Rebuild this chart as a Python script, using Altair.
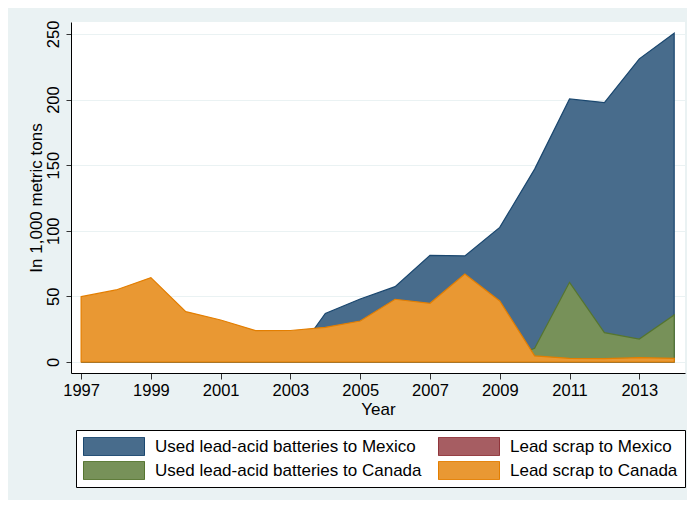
import altair as alt
import pandas as pd

years = list(range(1997, 2015))
batt_mexico = [0, 0, 0, 0, 0, 0, 0, 37, 48, 57.4, 81.3, 80.8, 102.6, 147, 200.5, 197.7, 231, 250.5]
scrap_mexico = [0, 0, 0, 0, 0, 0, 0, 0, 0, 0, 0, 0, 0, 0, 0, 0, 0, 0]
batt_canada = [0, 0, 0, 0, 0, 0, 0, 0, 0, 0, 0, 0, 0, 10.4, 60.7, 22.4, 17.5, 35.8]
scrap_canada = [49.8, 54.9, 64.3, 38.4, 32, 23.9, 24, 26.4, 31.2, 47.8, 44.7, 67.1, 46.5, 4.6, 2.8, 2.5, 3.3, 2.8]

# drawing order (back to front)
series_names = [
    "Used lead-acid batteries to Mexico",
    "Lead scrap to Mexico",
    "Used lead-acid batteries to Canada",
    "Lead scrap to Canada",
]
series_values = [batt_mexico, scrap_mexico, batt_canada, scrap_canada]
fills = ["#486C8C", "#A65D62", "#779159", "#E99833"]
strokes = ["#1A476F", "#90353B", "#55752F", "#E37E00"]

# legend order (legend fills its two columns top to bottom)
legend_order = [0, 2, 1, 3]
legend_names = [series_names[i] for i in legend_order]
legend_fills = [fills[i] for i in legend_order]
legend_strokes = [strokes[i] for i in legend_order]

x_ticks = [1997, 1999, 2001, 2003, 2005, 2007, 2009, 2011, 2013]
y_ticks = [0, 50, 100, 150, 200, 250]

rows = []
for name, vals in zip(series_names, series_values):
    for yr, v in zip(years, vals):
        rows.append({"year": yr, "value": v, "series": name})
df = pd.DataFrame(rows)

FONT = "Liberation Sans"

legend = alt.Legend(
    title=None,
    orient="none",
    legendX=5,
    legendY=408,
    columns=2,
    symbolType="M-1,-0.3H1V0.3H-1Z",
    symbolSize=3721,
    clipHeight=19,
    symbolStrokeWidth=1,
    symbolOpacity=1,
    labelFont=FONT,
    labelFontSize=17,
    labelColor="black",
    labelOffset=10,
    labelLimit=500,
    rowPadding=5,
    columnPadding=16,
    padding=7,
    strokeColor="black",
    fillColor="white",
)

x_enc = alt.X(
    "year:Q",
    scale=alt.Scale(domain=[1996.71, 2014.31], nice=False, zero=False),
    axis=alt.Axis(
        values=x_ticks, format="d", title="Year", grid=False,
        tickSize=6, labelPadding=3, tickColor="#333333", domainColor="black",
        labelFont=FONT, labelFontSize=16.5, labelColor="black",
        titleFont=FONT, titleFontSize=17, titleFontWeight="normal", titleColor="black",
        titlePadding=3,
    ),
)
y_enc = alt.Y(
    "value:Q",
    stack=None,
    scale=alt.Scale(domain=[-8.4, 259.1], nice=False, zero=False),
    axis=alt.Axis(
        values=y_ticks, title="In 1,000 metric tons", grid=True,
        gridColor="#EAF2F3", gridWidth=1,
        labelAngle=270, labelAlign="center", labelBaseline="bottom",
        tickSize=5, labelPadding=5, tickColor="#333333", domainColor="black",
        labelFont=FONT, labelFontSize=16.5, labelColor="black",
        titleFont=FONT, titleFontSize=17, titleFontWeight="normal", titleColor="black",
        titlePadding=0,
    ),
)

layers = []
for name in series_names:
    layer = (
        alt.Chart(df)
        .transform_filter(alt.datum.series == name)
        .mark_area(strokeWidth=1.2, fillOpacity=1, interpolate="linear")
        .encode(
            x=x_enc,
            y=y_enc,
            y2=alt.datum(0),
            color=alt.Color("series:N", scale=alt.Scale(domain=legend_names, range=legend_fills),
                            sort=legend_names, legend=legend),
            stroke=alt.Stroke("series:N", scale=alt.Scale(domain=legend_names, range=legend_strokes),
                              sort=legend_names, legend=legend),
        )
    )
    layers.append(layer)

chart = (
    alt.layer(*layers)
    .properties(
        width=614,
        height=351,
        autosize=alt.AutoSizeParams(type="none"),
        padding={"left": 63, "top": 14, "right": 2, "bottom": 127},
        background="#EAF2F3",
    )
    .configure_view(fill="white", strokeWidth=0)
)

chart.save("out.html", embed_options={"renderer": "svg", "actions": False})
